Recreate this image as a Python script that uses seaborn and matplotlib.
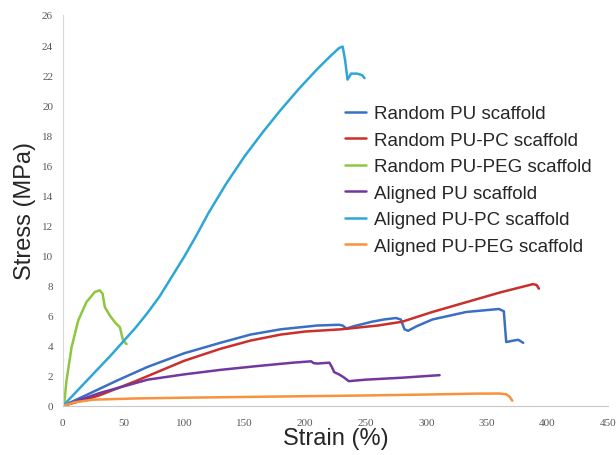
import seaborn as sns
import matplotlib.pyplot as plt
import pandas as pd

# values (strain %, stress MPa)
random_pu_x = [0, 20, 45, 70, 100, 130, 155, 180, 210, 228, 231, 234, 240, 255, 265, 275, 279, 282, 285, 292, 305, 333, 360, 364, 366, 372, 376, 380]
random_pu_y = [0, 0.75, 1.7, 2.6, 3.5, 4.2, 4.75, 5.1, 5.35, 5.4, 5.35, 5.15, 5.3, 5.6, 5.75, 5.85, 5.75, 5.1, 5.0, 5.3, 5.75, 6.25, 6.45, 6.3, 4.25, 4.35, 4.4, 4.2]

random_pc_x = [0, 30, 60, 100, 130, 155, 180, 200, 230, 260, 280, 305, 333, 361, 388, 391, 393]
random_pc_y = [0, 0.7, 1.65, 3.0, 3.8, 4.35, 4.75, 4.95, 5.1, 5.35, 5.6, 6.25, 6.9, 7.55, 8.1, 8.05, 7.8]

random_peg_x = [0, 1.1, 3, 7.2, 12.7, 19.5, 26.4, 30.5, 32.8, 34.7, 38.8, 42.9, 47.1, 48.4, 49.8, 52.6]
random_peg_y = [0, 0.11, 1.67, 3.9, 5.68, 6.91, 7.58, 7.69, 7.47, 6.57, 6.02, 5.57, 5.24, 4.79, 4.34, 4.12]

aligned_pu_x = [0, 30, 70, 100, 130, 160, 190, 205, 207, 210, 220, 222, 224, 228, 232, 236, 250, 280, 311]
aligned_pu_y = [0, 0.85, 1.75, 2.1, 2.4, 2.65, 2.88, 2.97, 2.85, 2.82, 2.88, 2.6, 2.25, 2.1, 1.9, 1.65, 1.75, 1.88, 2.05]

aligned_pc_x = [0, 20, 40, 60, 70, 80, 90, 100, 110, 120, 135, 150, 165, 180, 195, 210, 220, 228, 231, 233, 235, 238, 243, 247, 249]
aligned_pc_y = [0, 1.7, 3.4, 5.2, 6.2, 7.3, 8.6, 9.9, 11.3, 12.8, 14.8, 16.6, 18.2, 19.7, 21.1, 22.4, 23.2, 23.8, 23.9, 23.0, 21.7, 22.1, 22.1, 22.0, 21.8]

aligned_peg_x = [0, 10, 25, 60, 100, 150, 200, 250, 300, 340, 360, 366, 369, 371]
aligned_peg_y = [0, 0.25, 0.42, 0.5, 0.55, 0.6, 0.65, 0.7, 0.76, 0.82, 0.83, 0.78, 0.6, 0.35]

labels = ["Random PU scaffold", "Random PU-PC scaffold", "Random PU-PEG scaffold",
          "Aligned PU scaffold", "Aligned PU-PC scaffold", "Aligned PU-PEG scaffold"]
colors = ["#3A6FC6", "#C9302C", "#8DC63F", "#7238A0", "#2EA6D6", "#F7923E"]

series = [(random_pu_x, random_pu_y), (random_pc_x, random_pc_y), (random_peg_x, random_peg_y),
          (aligned_pu_x, aligned_pu_y), (aligned_pc_x, aligned_pc_y), (aligned_peg_x, aligned_peg_y)]

frames = []
for lab, (xs, ys) in zip(labels, series):
    frames.append(pd.DataFrame({"strain": xs, "stress": ys, "sample": lab}))
df = pd.concat(frames, ignore_index=True)

sns.set_style("white")
plt.rcParams['font.family'] = ['Liberation Sans', 'DejaVu Sans']

fig = plt.figure(figsize=(6.16, 4.56), dpi=100)
ax = fig.add_axes([0.102, 0.1075, 0.885, 0.8575])

sns.lineplot(data=df, x="strain", y="stress", hue="sample", hue_order=labels,
             palette=dict(zip(labels, colors)), sort=False, estimator=None,
             linewidth=1.8, ax=ax)

ax.set_xlim(0, 450)
ax.set_ylim(0, 26)
ax.set_xticks(range(0, 451, 50))
ax.set_yticks(range(0, 27, 2))
for t in ax.get_xticklabels() + ax.get_yticklabels():
    t.set_family('Liberation Serif')
    t.set_fontsize(8)
    t.set_color('#595959')
ax.tick_params(axis='x', length=0, pad=9)
ax.tick_params(axis='y', length=0, pad=7)

for side in ['top', 'right']:
    ax.spines[side].set_visible(False)
ax.spines['left'].set_color('#D9D9D9')
ax.spines['bottom'].set_color('#C8C8C8')

ax.set_xlabel("Strain (%)", fontsize=17, labelpad=0)
ax.set_ylabel("Stress (MPa)", fontsize=17, labelpad=4)

ax.legend(loc='upper left', bbox_to_anchor=(0.545, 0.7875), bbox_transform=fig.transFigure,
          frameon=False, fontsize=13.5, handlelength=1.1, handletextpad=0.45,
          labelspacing=0.5, borderpad=0)

plt.savefig("out.png", dpi=100)
